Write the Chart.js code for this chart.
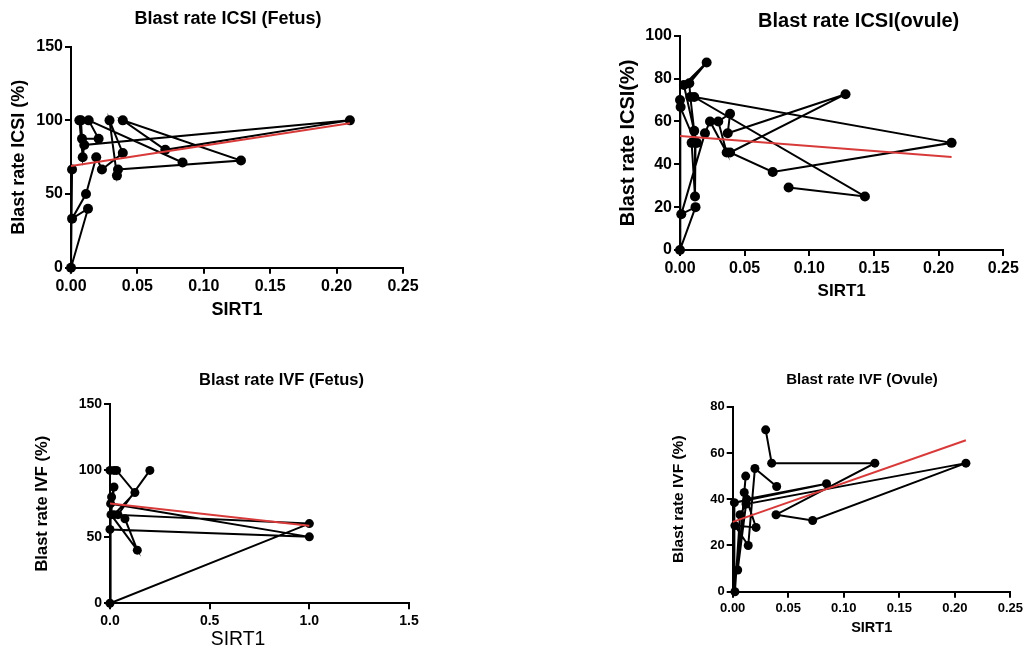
<!DOCTYPE html>
<html>
<head>
<meta charset="utf-8">
<script src="https://cdn.jsdelivr.net/npm/chart.js@4.4.1/dist/chart.umd.min.js"></script>
<style>
  html, body { margin: 0; padding: 0; background: #fff; }
  #wrap { position: relative; width: 1026px; height: 649px; overflow: hidden; }
  #wrap canvas { position: absolute; left: 0; top: 0; }
</style>
</head>
<body>
<div id="wrap">
  <canvas id="c1" width="1026" height="649"></canvas>
  <canvas id="c2" width="1026" height="649"></canvas>
  <canvas id="c3" width="1026" height="649"></canvas>
  <canvas id="c4" width="1026" height="649"></canvas>
</div>
<script>
// ICSI (Fetus) - points in data order
const icsiFetusX = [0.0008, 0, 0.0128, 0.0008, 0.0113, 0.019, 0.0233, 0.039, 0.029, 0.0346, 0.0354, 0.128, 0.039, 0.071, 0.21, 0.01, 0.0088, 0.0063, 0.0075, 0.0083, 0.0208, 0.0133, 0.084];
const icsiFetusY = [66.7, 0, 40, 33.3, 50, 75, 66.7, 77.8, 100, 62.5, 66.7, 72.7, 100, 80, 100, 83.3, 75, 100, 100, 87.5, 87.5, 100, 71.4];
const icsiFetusFitX = [0, 0.21];
const icsiFetusFitY = [69, 98];

// ICSI (ovule)
const icsiOvuleX = [0.084, 0.143, 0.011, 0.21, 0.0717, 0.0387, 0.128, 0.0369, 0.0387, 0.0296, 0.0361, 0.0232, 0.0193, 0.001, 0.012, 0, 0, 0.0005, 0.012, 0.0116, 0.009, 0.011, 0.008, 0.0072, 0.0206, 0.003, 0.013];
const icsiOvuleY = [29.2, 25, 71.4, 50, 36.4, 45.5, 72.7, 54.5, 63.6, 60, 45.5, 60, 54.5, 16.7, 20, 0, 70, 66.7, 50, 25, 50, 55.6, 71.4, 77.8, 87.5, 77, 50];
const icsiOvuleFitX = [0, 0.21];
const icsiOvuleFitY = [53.2, 43.4];

// IVF (Fetus)
const ivfFetusX = [0, 0.02, 0.033, 0.125, 0.02, 1.0, 0, 0.003, 1.0, 0, 0.008, 0.02, 0.005, 0.137, 0.075, 0.04, 0.2];
const ivfFetusY = [100, 100, 100, 83.3, 66.7, 60, 0, 75, 50, 55.6, 80, 87.5, 66.7, 40, 63.6, 66.7, 100];
const ivfFetusFitX = [0, 1.0];
const ivfFetusFitY = [75.2, 58.4];

// IVF (Ovule)
const ivfOvuleX = [0.0297, 0.0351, 0.128, 0.039, 0.072, 0.21, 0.012, 0.0066, 0.002, 0.0015, 0.0845, 0.0126, 0.0045, 0.0117, 0.0104, 0.021, 0.002, 0.014, 0.02, 0.0396];
const ivfOvuleY = [70, 55.6, 55.6, 33.3, 30.8, 55.6, 37.9, 33.3, 0, 38.5, 46.7, 40, 9.4, 50, 42.9, 27.8, 28.6, 20, 53.3, 45.5];
const ivfOvuleFitX = [0, 0.21];
const ivfOvuleFitY = [30.2, 65.5];

const FONT = '"Liberation Sans", Arial, sans-serif';

// draws panel title and axis titles at fixed spots
function textPlugin(items) {
    return {
        id: 'panelText',
        afterDraw(chart) {
            const ctx = chart.ctx;
            items.forEach(t => {
                ctx.save();
                ctx.translate(t.x, t.y);
                if (t.rotate) ctx.rotate(-Math.PI / 2);
                ctx.font = (t.weight || 'bold') + ' ' + t.size + 'px ' + FONT;
                ctx.fillStyle = '#000';
                ctx.textAlign = 'center';
                ctx.textBaseline = 'middle';
                ctx.fillText(t.text, 0, 0);
                ctx.restore();
            });
        }
    };
}

function toPoints(xs, ys) {
    return xs.map((x, i) => ({ x: x, y: ys[i] }));
}

function makePanel(id, p) {
    const yW = 60, xH = 40;
    const tickFont = { family: FONT, size: p.tickSize, weight: 'bold' };
    new Chart(document.getElementById(id), {
        type: 'scatter',
        data: {
            datasets: [{
                data: toPoints(p.fitX, p.fitY),
                showLine: true,
                borderColor: '#d83a3a',
                borderWidth: 2,
                pointRadius: 0,
                clip: false,
                order: 0
            }, {
                data: toPoints(p.x, p.y),
                showLine: true,
                borderColor: '#000',
                borderWidth: 2,
                backgroundColor: '#000',
                pointRadius: p.radius,
                pointBorderWidth: 0,
                clip: false,
                order: 1
            }]
        },
        options: {
            responsive: false,
            animation: false,
            layout: {
                padding: {
                    left: p.left - yW,
                    right: 1026 - p.right,
                    top: p.top,
                    bottom: 649 - p.bottom - xH
                }
            },
            plugins: { legend: { display: false }, tooltip: { enabled: false } },
            scales: {
                x: {
                    type: 'linear',
                    min: p.xMin, max: p.xMax,
                    ticks: {
                        stepSize: p.xStep, color: '#000', font: tickFont, padding: 3,
                        maxRotation: 0, autoSkip: false,
                        callback: v => v.toFixed(p.xDec)
                    },
                    grid: { drawOnChartArea: false, drawTicks: true, tickLength: 6, color: '#000', lineWidth: 2 },
                    border: { display: true, color: '#000', width: 2 },
                    afterFit: s => { s.height = xH; }
                },
                y: {
                    type: 'linear',
                    min: p.yMin, max: p.yMax,
                    ticks: { stepSize: p.yStep, color: '#000', font: tickFont, padding: 2, autoSkip: false },
                    grid: { drawOnChartArea: false, drawTicks: true, tickLength: 6, color: '#000', lineWidth: 2 },
                    border: { display: true, color: '#000', width: 2 },
                    afterFit: s => { s.width = yW; }
                }
            }
        },
        plugins: [textPlugin(p.texts)]
    });
}

makePanel('c1', {
    x: icsiFetusX, y: icsiFetusY, fitX: icsiFetusFitX, fitY: icsiFetusFitY,
    left: 71, right: 403, top: 46.7, bottom: 267.7, radius: 5, tickSize: 16,
    xMin: 0, xMax: 0.25, xStep: 0.05, xDec: 2, yMin: 0, yMax: 150, yStep: 50,
    texts: [
        { text: 'Blast rate ICSI (Fetus)', x: 228, y: 19, size: 18 },
        { text: 'Blast rate ICSI (%)', x: 19, y: 157.2, size: 18, rotate: true },
        { text: 'SIRT1', x: 237, y: 310, size: 18 }
    ]
});

makePanel('c2', {
    x: icsiOvuleX, y: icsiOvuleY, fitX: icsiOvuleFitX, fitY: icsiOvuleFitY,
    left: 680, right: 1003.3, top: 35.7, bottom: 250, radius: 5, tickSize: 16,
    xMin: 0, xMax: 0.25, xStep: 0.05, xDec: 2, yMin: 0, yMax: 100, yStep: 20,
    texts: [
        { text: 'Blast rate ICSI(ovule)', x: 858.7, y: 21.7, size: 20 },
        { text: 'Blast rate ICSI(%)', x: 628.3, y: 142.9, size: 20, rotate: true },
        { text: 'SIRT1', x: 841.7, y: 291, size: 17 }
    ]
});

makePanel('c3', {
    x: ivfFetusX, y: ivfFetusY, fitX: ivfFetusFitX, fitY: ivfFetusFitY,
    left: 110, right: 409, top: 404, bottom: 603.3, radius: 4.5, tickSize: 14,
    xMin: 0, xMax: 1.5, xStep: 0.5, xDec: 1, yMin: 0, yMax: 150, yStep: 50,
    texts: [
        { text: 'Blast rate IVF (Fetus)', x: 281.5, y: 380.7, size: 16.5 },
        { text: 'Blast rate IVF (%)', x: 42.7, y: 503.7, size: 16.5, rotate: true },
        { text: 'SIRT1', x: 238, y: 640, size: 19.4, weight: 'normal' }
    ]
});

makePanel('c4', {
    x: ivfOvuleX, y: ivfOvuleY, fitX: ivfOvuleFitX, fitY: ivfOvuleFitY,
    left: 732.7, right: 1010.7, top: 406.7, bottom: 591.7, radius: 4.5, tickSize: 13,
    xMin: 0, xMax: 0.25, xStep: 0.05, xDec: 2, yMin: 0, yMax: 80, yStep: 20,
    texts: [
        { text: 'Blast rate IVF (Ovule)', x: 862, y: 380, size: 15 },
        { text: 'Blast rate IVF (%)', x: 678.3, y: 499.2, size: 15.5, rotate: true },
        { text: 'SIRT1', x: 871.7, y: 628.3, size: 14.5 }
    ]
});
</script>
</body>
</html>
